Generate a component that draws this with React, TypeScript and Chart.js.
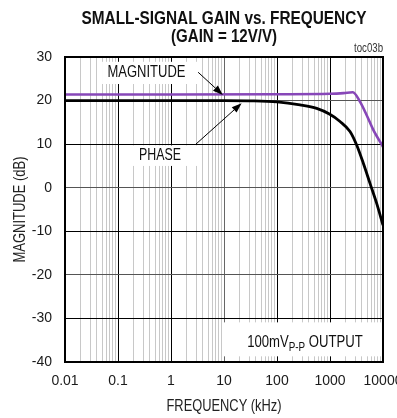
import React, { useEffect, useRef } from 'react';
import { Chart, registerables } from 'chart.js';

Chart.register(...registerables);

// ---- data ----
const FREQ_MAG = [0.01, 1, 100, 1000, 1800, 2700, 3700, 4900, 6600, 10000];
const MAGNITUDE = [21.4, 21.4, 21.45, 21.55, 21.7, 21.9, 19.7, 16.7, 13.2, 9.4];

const FREQ_PHASE = [0.01, 1, 10, 30, 100, 272, 561, 973, 1545, 2385, 3184, 4254, 5685, 7600, 10000];
const PHASE = [20.0, 20.0, 20.0, 19.95, 19.7, 19.0, 18.2, 16.9, 15.2, 12.9, 9.8, 5.6, 1.0, -3.6, -8.6];

const X_MAJOR = [0.01, 0.1, 1, 10, 100, 1000, 10000];
const X_LABELS = ['0.01', '0.1', '1', '10', '100', '1000', '10000'];
const X_MINOR_MULT = [2, 3, 4, 5, 6, 7, 8, 9];
const Y_TICKS = [30, 20, 10, 0, -10, -20, -30, -40];

const FONT = '"Liberation Sans", Arial, Helvetica, sans-serif';

const isMajor = (v: number) => {
  const l = Math.log10(v);
  return Math.abs(l - Math.round(l)) < 1e-6;
};

// draw text horizontally condensed to a target width (narrow-font look)
function fitText(
  ctx: CanvasRenderingContext2D, text: string, x: number, y: number, font: string,
  target: number, align: CanvasTextAlign = 'center', rot = 0,
) {
  ctx.save();
  ctx.font = font;
  const w = ctx.measureText(text).width;
  const s = target / w;
  ctx.translate(x, y);
  if (rot) ctx.rotate(rot);
  ctx.scale(s, 1);
  ctx.textAlign = align;
  ctx.textBaseline = 'middle';
  ctx.fillText(text, 0, 0);
  ctx.restore();
}

function arrow(ctx: CanvasRenderingContext2D, x1: number, y1: number, x2: number, y2: number) {
  const ang = Math.atan2(y2 - y1, x2 - x1);
  const len = 10, hw = 3.6;
  ctx.beginPath();
  ctx.moveTo(x1, y1);
  ctx.lineTo(x2 - len * Math.cos(ang), y2 - len * Math.sin(ang));
  ctx.lineWidth = 1;
  ctx.strokeStyle = '#000';
  ctx.stroke();
  ctx.beginPath();
  ctx.moveTo(x2, y2);
  ctx.lineTo(x2 - len * Math.cos(ang) + hw * Math.sin(ang), y2 - len * Math.sin(ang) - hw * Math.cos(ang));
  ctx.lineTo(x2 - len * Math.cos(ang) - hw * Math.sin(ang), y2 - len * Math.sin(ang) + hw * Math.cos(ang));
  ctx.closePath();
  ctx.fillStyle = '#000';
  ctx.fill();
}

const annotPlugin = {
  id: 'annot',
  beforeDatasetsDraw(chart: any) {
    const { ctx, scales } = chart;
    const x = scales.x, y = scales.y;
    const box = (f1: number, f2: number, d1: number, d2: number) => {
      const px1 = x.getPixelForValue(f1), px2 = x.getPixelForValue(f2);
      const py1 = y.getPixelForValue(d1), py2 = y.getPixelForValue(d2);
      ctx.fillRect(px1, py1, px2 - px1, py2 - py1);
    };
    ctx.save();
    ctx.fillStyle = '#fff';
    box(0.05, 3.3, 28.9, 23.8);
    box(0.19, 3.2, 9.7, 5.0);
    box(9.6, 10000, -30.9, -38.7);

    ctx.fillStyle = '#111';
    fitText(ctx, 'MAGNITUDE', x.getPixelForValue(0.345), y.getPixelForValue(26.4), `16px ${FONT}`, 78);
    fitText(ctx, 'PHASE', x.getPixelForValue(0.62), y.getPixelForValue(7.3), `16px ${FONT}`, 42);

    // 100mVP-P OUTPUT, condensed
    const S = 0.82;
    const big = `16px ${FONT}`, small = `12px ${FONT}`;
    ctx.font = big;
    const w1 = ctx.measureText('100mV').width;
    const w3 = ctx.measureText(' OUTPUT').width;
    ctx.font = small;
    const w2 = ctx.measureText('P-P').width;
    const cx = x.getPixelForValue(337);
    const base = y.getPixelForValue(-35.4) + 5.5;
    ctx.save();
    ctx.translate(cx - (S * (w1 + w2 + w3)) / 2, base);
    ctx.scale(S, 1);
    ctx.textAlign = 'left';
    ctx.textBaseline = 'alphabetic';
    ctx.font = big;
    ctx.fillText('100mV', 0, 0);
    ctx.font = small;
    ctx.fillText('P-P', w1, 3.5);
    ctx.font = big;
    ctx.fillText(' OUTPUT', w1 + w2, 0);
    ctx.restore();
    ctx.restore();
  },
  afterDatasetsDraw(chart: any) {
    const { ctx, scales, chartArea: a } = chart;
    const x = scales.x, y = scales.y;
    ctx.save();
    arrow(ctx, x.getPixelForValue(3.25), y.getPixelForValue(26.5), x.getPixelForValue(9.5), y.getPixelForValue(21.3));
    arrow(ctx, x.getPixelForValue(2.95), y.getPixelForValue(10.0), x.getPixelForValue(21.5), y.getPixelForValue(19.4));
    ctx.lineWidth = 2;
    ctx.strokeStyle = '#000';
    ctx.strokeRect(a.left, a.top, a.right - a.left, a.bottom - a.top);

    // titles
    const cx = (a.left + a.right) / 2;
    const cy = (a.top + a.bottom) / 2;
    ctx.fillStyle = '#111';
    fitText(ctx, 'SMALL-SIGNAL GAIN vs. FREQUENCY', cx, 19, `bold 18px ${FONT}`, 285);
    fitText(ctx, '(GAIN = 12V/V)', cx, 37, `bold 18px ${FONT}`, 106);
    ctx.fillStyle = '#333';
    fitText(ctx, 'toc03b', a.right, 49, `12px ${FONT}`, 29, 'right');
    ctx.fillStyle = '#222';
    fitText(ctx, 'FREQUENCY (kHz)', cx, 406.5, `16px ${FONT}`, 115);
    fitText(ctx, 'MAGNITUDE (dB)', 21, cy, `16px ${FONT}`, 106, 'center', -Math.PI / 2);
    ctx.restore();
  },
};

export default function App() {
  const ref = useRef<HTMLCanvasElement>(null);
  useEffect(() => {
    document.body.style.margin = '0';
    const canvas = ref.current!;
    const chart = new Chart(canvas, {
      type: 'line',
      data: {
        datasets: [
          {
            label: 'MAGNITUDE',
            data: FREQ_MAG.map((f, i) => ({ x: f, y: MAGNITUDE[i] })),
            borderColor: '#8747b8',
            borderWidth: 2.6,
            pointRadius: 0,
            cubicInterpolationMode: 'monotone',
          },
          {
            label: 'PHASE',
            data: FREQ_PHASE.map((f, i) => ({ x: f, y: PHASE[i] })),
            borderColor: '#000',
            borderWidth: 2.8,
            pointRadius: 0,
            cubicInterpolationMode: 'monotone',
          },
        ],
      },
      options: {
        animation: false,
        responsive: false,
        devicePixelRatio: 1,
        layout: { padding: { left: 0, top: 57, right: 47, bottom: 0 } },
        plugins: { legend: { display: false }, tooltip: { enabled: false }, title: { display: false } },
        scales: {
          x: {
            type: 'logarithmic',
            min: 0.01,
            max: 10000,
            afterBuildTicks: (scale: any) => {
              const t: any[] = [];
              X_MAJOR.forEach((m, i) => {
                t.push({ value: m, major: false });
                if (i < X_MAJOR.length - 1) X_MINOR_MULT.forEach((k) => t.push({ value: m * k, major: false }));
              });
              scale.ticks = t;
            },
            afterFit: (scale: any) => { scale.height = 56; },
            border: { display: false },
            grid: {
              drawTicks: false,
              color: (c: any) => {
                const v = c.tick?.value;
                if (v == null) return '#ccc';
                if (isMajor(v)) return v === 10 ? '#666' : '#000';
                return '#c8c8c8';
              },
              lineWidth: 1,
            },
            ticks: {
              autoSkip: false,
              maxRotation: 0,
              padding: 11,
              color: '#1a1a1a',
              font: { family: FONT, size: 14 },
              callback: (v: any) => {
                const i = X_MAJOR.findIndex((m) => Math.abs(m - Number(v)) / m < 1e-6);
                return i >= 0 ? X_LABELS[i] : '';
              },
            },
          },
          y: {
            min: -40,
            max: 30,
            afterBuildTicks: (scale: any) => {
              scale.ticks = Y_TICKS.map((v) => ({ value: v }));
            },
            afterFit: (scale: any) => { scale.width = 65; },
            border: { display: false },
            grid: {
              drawTicks: false,
              color: (c: any) => {
                const v = c.tick?.value;
                return Math.abs(v) % 20 === 0 ? '#555' : '#000';
              },
              lineWidth: 1,
            },
            ticks: {
              padding: 13,
              color: '#1a1a1a',
              font: { family: FONT, size: 14 },
            },
          },
        },
      },
      plugins: [annotPlugin],
    } as any);
    return () => chart.destroy();
  }, []);
  return (
    <div style={{ width: 397, height: 418, overflow: 'hidden', background: '#fff' }}>
      <canvas ref={ref} width={430} height={418} style={{ width: 430, height: 418, display: 'block' }} />
    </div>
  );
}
